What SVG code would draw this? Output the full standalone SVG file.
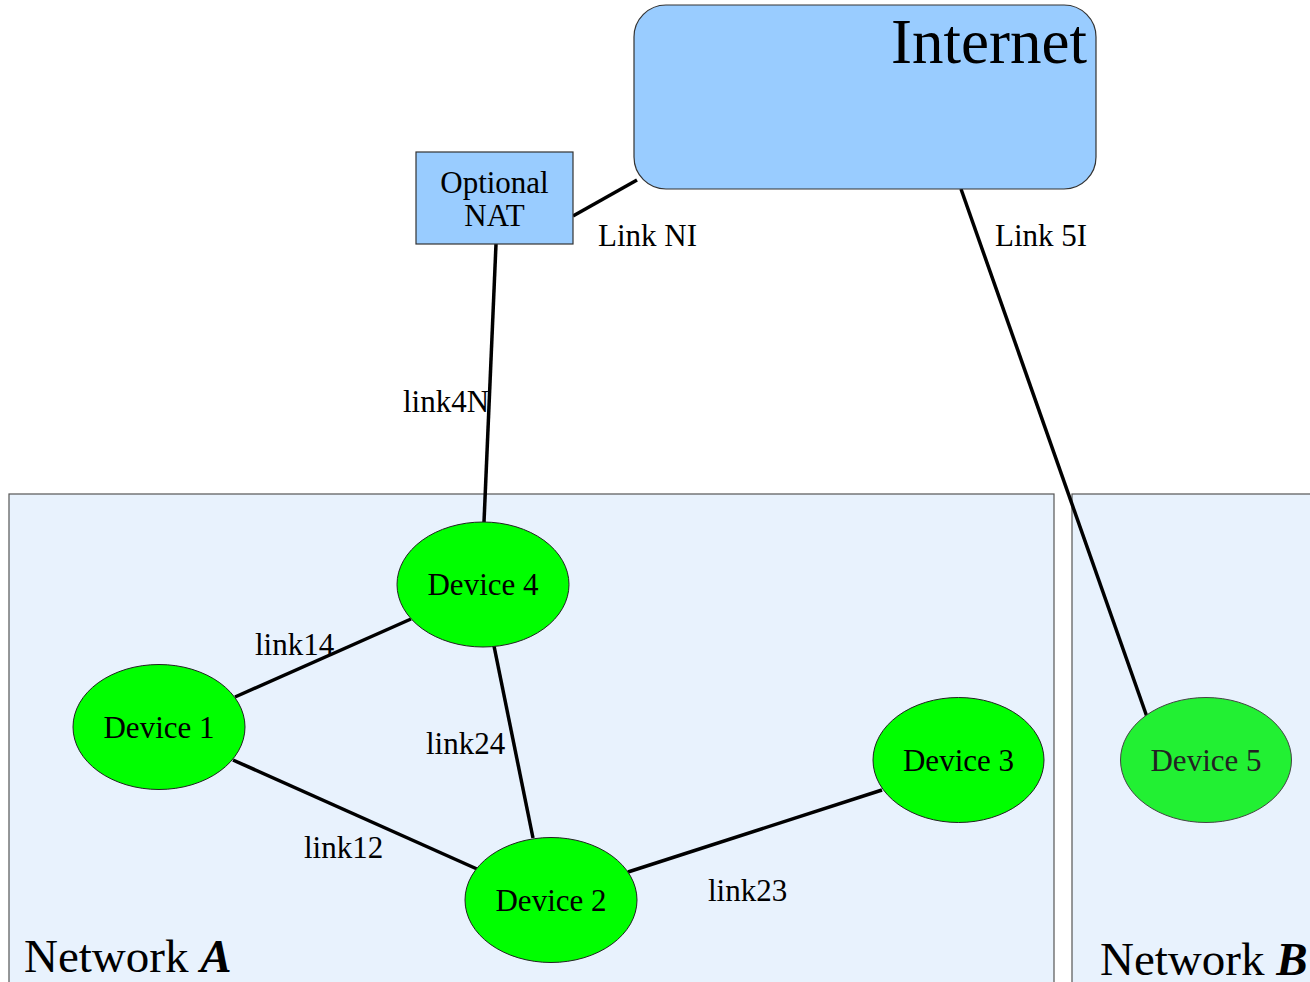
<svg xmlns="http://www.w3.org/2000/svg" width="1310" height="982" viewBox="0 0 1310 982">
<style>
text{font-family:"Liberation Serif","Times New Roman",serif;fill:#000}
.lbl{font-size:31px}
.net{fill:#e8f2fd;stroke:#555;stroke-width:1.2}
.dev{fill:#00ff00;stroke:#222;stroke-width:1}
.box{fill:#99ccff;stroke:#333;stroke-width:1.2}
.edge{stroke:#000;stroke-width:3.5;fill:none}
</style>
<rect width="1310" height="982" fill="#fff"/>
<g id="networkA">
<rect class="net" x="9" y="494" width="1045" height="500"/>
<text x="24" y="972" style="font-size:47px">Network <tspan font-weight="bold" font-style="italic">A</tspan></text>
</g>
<g id="networkB">
<rect class="net" x="1072" y="494" width="260" height="500"/>
<text x="1100" y="975" style="font-size:47px">Network <tspan font-weight="bold" font-style="italic">B</tspan></text>
</g>
<g id="connectors">
<line class="edge" x1="573" y1="216" x2="637" y2="180"/>
<line class="edge" x1="961" y1="189" x2="1147" y2="717"/>
<line class="edge" x1="496" y1="244" x2="484" y2="522"/>
<line class="edge" x1="235" y1="697" x2="411" y2="619"/>
<line class="edge" x1="233" y1="760" x2="477" y2="869"/>
<line class="edge" x1="494" y1="646" x2="533" y2="838"/>
<line class="edge" x1="628" y1="872" x2="882" y2="790"/>
<text class="lbl" x="598" y="246">Link NI</text>
<text class="lbl" x="995" y="246">Link 5I</text>
<text class="lbl" x="403" y="412">link4N</text>
<text class="lbl" x="255" y="655">link14</text>
<text class="lbl" x="426" y="754">link24</text>
<text class="lbl" x="304" y="858">link12</text>
<text class="lbl" x="708" y="901">link23</text>
</g>
<g id="internet">
<rect class="box" x="634" y="5" width="462" height="184" rx="32" ry="32"/>
<text x="1087" y="63" text-anchor="end" style="font-size:63px">Internet</text>
</g>
<g id="nat">
<rect class="box" x="416" y="152" width="157" height="92"/>
<text class="lbl" x="494.500" y="193" text-anchor="middle">Optional</text>
<text class="lbl" x="494.500" y="226" text-anchor="middle">NAT</text>
</g>
<g id="device4">
<ellipse class="dev" cx="483" cy="584.500" rx="86" ry="62.500"/>
<text class="lbl" x="483" y="595" text-anchor="middle">Device 4</text>
</g>
<g id="device1">
<ellipse class="dev" cx="159" cy="727" rx="86" ry="62.500"/>
<text class="lbl" x="159" y="738" text-anchor="middle">Device 1</text>
</g>
<g id="device2">
<ellipse class="dev" cx="551" cy="900" rx="86" ry="62.500"/>
<text class="lbl" x="551" y="911" text-anchor="middle">Device 2</text>
</g>
<g id="device3">
<ellipse class="dev" cx="958.500" cy="760" rx="85.500" ry="62.500"/>
<text class="lbl" x="958.500" y="771" text-anchor="middle">Device 3</text>
</g>
<g id="device5">
<ellipse class="dev" cx="1206" cy="760" rx="85.500" ry="62.500" style="fill:#22f033;stroke:#444"/>
<text class="lbl" x="1206" y="771" text-anchor="middle" style="fill:#222">Device 5</text>
</g>
</svg>
